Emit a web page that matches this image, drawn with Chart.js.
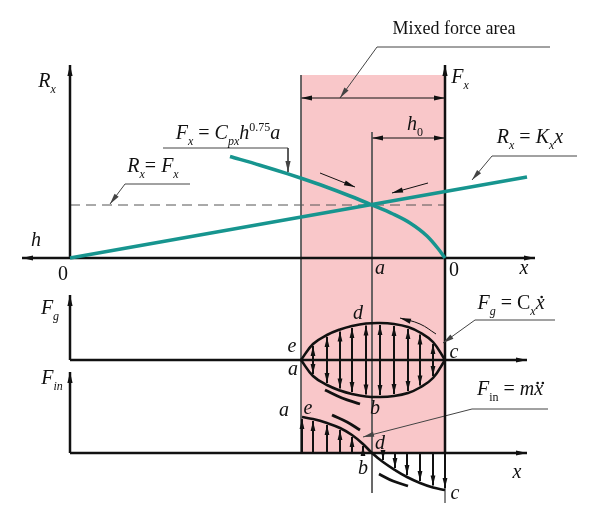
<!DOCTYPE html>
<html>
<head>
<meta charset="utf-8">
<script src="https://cdn.jsdelivr.net/npm/chart.js@4.4.1/dist/chart.umd.min.js"></script>
<style>
  html, body { margin: 0; padding: 0; background: #fff; }
  canvas { display: block; }
</style>
</head>
<body>
<canvas id="forceChart" width="600" height="527"></canvas>
<script>
// Drawing units: x = 0 at the left origin, the right origin (F_x axis) sits at 37.5.
const zoneEdges = [23.1, 37.5];        // mixed force area
const pointA = 30.2;                   // R_x = F_x here
const balanceForce = 5.3;

// top panel: spring reaction R_x = K_x x and cutting force F_x
const springX = [0, 45.7];
const springR = [0, 8.1];
const cuttingX = [16.0, 19.0, 21.8, 23.2, 25.5, 28.0, 30.2, 32.3, 34.0, 35.7, 36.8, 37.5];
const cuttingF = [10.15, 9.28, 8.41, 7.95, 7.15, 6.2, 5.3, 4.4, 3.5, 2.2, 0.95, 0];

// middle panel: damping force F_g (closed loop a-d-c-b)
const dampX = [23.1, 24.3, 25.7, 27.0, 28.2, 29.6, 31.0, 32.4, 33.8, 35.0, 36.3, 37.5];
const dampUpper = [0, 1.6, 2.5, 3.05, 3.4, 3.65, 3.7, 3.6, 3.3, 2.75, 1.8, 0];
const dampLower = [0, -1.6, -2.5, -3.05, -3.4, -3.65, -3.7, -3.6, -3.3, -2.75, -1.8, 0];

// bottom panel: inertia force F_in
const inertiaX = [23.2, 24.3, 25.7, 27.0, 28.2, 29.3, 30.2, 31.3, 32.5, 33.7, 35.0, 36.3, 37.5];
const inertiaF = [3.6, 3.4, 3.0, 2.5, 1.8, 0.9, 0, -0.9, -1.7, -2.4, -3.0, -3.45, -3.7];

const INK = '#111';
const GUIDE = '#555';
const TEAL = '#17958f';
const PINK = '#f9c7c9';
const FAMILY = '"Liberation Serif", "DejaVu Serif", serif';

function seg(xs, ys, axis, style) {
    return Object.assign({
        data: xs.map((x, i) => ({ x, y: ys[i] })),
        yAxisID: axis,
        showLine: true,
        fill: false,
        pointRadius: 0,
        pointHoverRadius: 0,
        borderColor: INK,
        borderWidth: 1,
        tension: 0,
    }, style);
}

const datasets = [
    // curves
    seg(springX, springR, 'y', { borderColor: TEAL, borderWidth: 3.5 }),
    seg(cuttingX, cuttingF, 'y', { borderColor: TEAL, borderWidth: 3.5, cubicInterpolationMode: 'monotone' }),
    seg(dampX, dampUpper, 'yG', { borderWidth: 2.6, tension: 0.4 }),
    seg(dampX, dampLower, 'yG', { borderWidth: 2.6, tension: 0.4 }),
    seg(inertiaX, inertiaF, 'yIn', { borderWidth: 2.6, tension: 0.4 }),

    // axes
    seg([-4.8, 46.5], [0, 0], 'y', { borderWidth: 2.5, arrow: 'both' }),
    seg([0, 0], [0, 19.3], 'y', { borderWidth: 2.5, arrow: 'end' }),
    seg([zoneEdges[1], zoneEdges[1]], [-19.5, 19.3], 'y', { borderWidth: 2.5, arrow: 'end' }),
    seg([zoneEdges[1], zoneEdges[1]], [-24.5, -19.5], 'y', { borderWidth: 1 }),
    seg([0, 45.7], [0, 0], 'yG', { borderWidth: 2.5, arrow: 'end' }),
    seg([0, 0], [0, 6.5], 'yG', { borderWidth: 2.5, arrow: 'end' }),
    seg([0, 45.7], [0, 0], 'yIn', { borderWidth: 2.5, arrow: 'end' }),
    seg([0, 0], [0, 8.1], 'yIn', { borderWidth: 2.5, arrow: 'end' }),

    // guides
    seg([zoneEdges[0], zoneEdges[0]], [18.3, -19.5], 'y', { borderColor: GUIDE }),
    seg([pointA, pointA], [12.6, -23.5], 'y', { borderColor: GUIDE }),
    seg([0, zoneEdges[1]], [balanceForce, balanceForce], 'y', { borderColor: '#555', borderDash: [10, 6] }),
    seg(zoneEdges, [16.0, 16.0], 'y', { arrow: 'both' }),
    seg([pointA, zoneEdges[1]], [12.0, 12.0], 'y', { arrow: 'both' }),

    // leaders
    seg([48.0, 30.7, 27.0], [21.1, 21.1, 16.0], 'y', { borderColor: '#444', arrow: 'end' }),
    seg([12.0, 5.5, 4.0], [7.4, 7.4, 5.4], 'y', { borderColor: '#444', arrow: 'end' }),
    seg([9.3, 21.8, 21.8], [11.0, 11.0, 8.6], 'y', { borderColor: '#444', arrow: 'end' }),
    seg([50.7, 42.2, 40.2], [10.2, 10.2, 7.8], 'y', { borderColor: '#444', arrow: 'end' }),
    seg([48.5, 40.5, 37.3], [4.0, 4.0, 1.7], 'yG', { borderColor: '#444', arrow: 'end' }),
    seg([47.8, 40.2, 29.3], [4.4, 4.4, 1.6], 'yIn', { borderColor: '#444', arrow: 'end' }),

    // motion marks
    seg([25.0, 28.5], [8.5, 7.1], 'y', { arrow: 'end' }),
    seg([35.8, 32.2], [7.5, 6.5], 'y', { arrow: 'end' }),
    seg([36.6, 35.0, 33.0], [2.6, 3.6, 4.2], 'yG', { arrow: 'end', tension: 0.4 }),
    seg([25.5, 27.2, 29.0], [-3.0, -3.8, -4.4], 'yG', { borderWidth: 2.8, tension: 0.4 }),
    seg([26.2, 27.7, 29.0], [3.8, 3.1, 2.3], 'yIn', { borderWidth: 2.8, tension: 0.4 }),
    seg([30.9, 32.3, 33.8], [-2.1, -2.8, -3.3], 'yIn', { borderWidth: 2.8, tension: 0.4 }),
];

// text labels: parts are [text, kind]; i italic, r roman, s/sr subscript, p superscript, d1/d2 dotted x
const labels = [
    { t: [['Mixed force area', 'r']], x: 38.4, y: 23.0, a: 'y', size: 18 },
    { t: [['R', 'i'], ['x', 's']], x: -2.3, y: 17.7, a: 'y' },
    { t: [['F', 'i'], ['x', 's']], x: 39.0, y: 18.1, a: 'y' },
    { t: [['h', 'i']], x: -3.4, y: 1.8, a: 'y' },
    { t: [['0', 'r']], x: -0.7, y: -1.6, a: 'y' },
    { t: [['a', 'i']], x: 31.0, y: -1.0, a: 'y' },
    { t: [['0', 'r']], x: 38.4, y: -1.2, a: 'y' },
    { t: [['x', 'i']], x: 45.4, y: -1.0, a: 'y' },
    { t: [['R', 'i'], ['x', 's'], ['= ', 'r'], ['F', 'i'], ['x', 's']], x: 8.3, y: 9.2, a: 'y' },
    { t: [['F', 'i'], ['x', 's'], [' = ', 'r'], ['C', 'i'], ['px', 's'], ['h', 'i'], ['0.75', 'p'], ['a', 'i']], x: 15.8, y: 12.5, a: 'y' },
    { t: [['R', 'i'], ['x', 's'], [' = ', 'r'], ['K', 'i'], ['x', 's'], ['x', 'i']], x: 46.0, y: 12.1, a: 'y' },
    { t: [['h', 'i'], ['0', 'sr']], x: 34.5, y: 13.4, a: 'y' },
    { t: [['F', 'i'], ['g', 's']], x: -2.0, y: 5.2, a: 'yG' },
    { t: [['d', 'i']], x: 28.8, y: 4.7, a: 'yG' },
    { t: [['e', 'i']], x: 22.2, y: 1.4, a: 'yG' },
    { t: [['a', 'i']], x: 22.3, y: -0.9, a: 'yG' },
    { t: [['c', 'i']], x: 38.4, y: 0.8, a: 'yG' },
    { t: [['b', 'i']], x: 30.5, y: -4.8, a: 'yG' },
    { t: [['F', 'i'], ['g', 's'], [' = C', 'r'], ['x', 's'], ['x', 'd1']], x: 44.1, y: 5.7, a: 'yG' },
    { t: [['F', 'i'], ['in', 's']], x: -1.8, y: 7.5, a: 'yIn' },
    { t: [['a', 'i']], x: 21.4, y: 4.3, a: 'yIn' },
    { t: [['e', 'i']], x: 23.8, y: 4.5, a: 'yIn' },
    { t: [['d', 'i']], x: 31.0, y: 1.0, a: 'yIn' },
    { t: [['b', 'i']], x: 29.3, y: -1.5, a: 'yIn' },
    { t: [['c', 'i']], x: 38.5, y: -4.0, a: 'yIn' },
    { t: [['x', 'i']], x: 44.7, y: -1.9, a: 'yIn' },
    { t: [['F', 'i'], ['in', 'sr'], [' = ', 'r'], ['m', 'i'], ['x', 'd2']], x: 44.0, y: 6.4, a: 'yIn' },
];

function partFont(kind, size) {
    const small = Math.round(size * 0.62);
    if (kind === 'r') return `${size}px ${FAMILY}`;
    if (kind === 's') return `italic ${small}px ${FAMILY}`;
    if (kind === 'sr' || kind === 'p') return `${small}px ${FAMILY}`;
    return `italic ${size}px ${FAMILY}`;
}

function drawRich(ctx, parts, cx, cy, size) {
    const widths = parts.map(([t, k]) => {
        ctx.font = partFont(k, size);
        return ctx.measureText(t).width;
    });
    const total = widths.reduce((s, w) => s + w, 0);
    let x = cx - total / 2;
    const base = cy + size * 0.32;
    parts.forEach(([t, k], i) => {
        ctx.font = partFont(k, size);
        let dy = 0;
        if (k === 's' || k === 'sr') dy = size * 0.28;
        if (k === 'p') dy = -size * 0.4;
        ctx.fillText(t, x, base + dy);
        if (k === 'd1' || k === 'd2') {
            const mx = x + widths[i] / 2 + size * 0.08;
            const my = base - size * 0.62;
            const offs = k === 'd1' ? [0] : [-2.6, 2.6];
            offs.forEach(o => {
                ctx.beginPath();
                ctx.arc(mx + o, my, 1.3, 0, Math.PI * 2);
                ctx.fill();
            });
        }
        x += widths[i];
    });
}

function head(ctx, x0, y0, x1, y1, len = 11, half = 2.6) {
    const a = Math.atan2(y1 - y0, x1 - x0);
    const c = Math.cos(a), s = Math.sin(a);
    ctx.beginPath();
    ctx.moveTo(x1, y1);
    ctx.lineTo(x1 - len * c + half * s, y1 - len * s - half * c);
    ctx.lineTo(x1 - len * c - half * s, y1 - len * s + half * c);
    ctx.closePath();
    ctx.fill();
}

const sketch = {
    id: 'sketch',
    beforeDatasetsDraw(chart) {
        const { ctx, scales } = chart;
        const l = scales.x.getPixelForValue(zoneEdges[0]);
        const r = scales.x.getPixelForValue(zoneEdges[1]);
        const t = scales.y.getPixelForValue(18.3);
        const b = scales.yIn.getPixelForValue(0);
        ctx.save();
        ctx.fillStyle = PINK;
        ctx.fillRect(l, t, r - l, b - t);
        ctx.restore();
    },
    afterDatasetsDraw(chart) {
        const { ctx, scales } = chart;
        const X = v => scales.x.getPixelForValue(v);
        ctx.save();

        // arrowheads on line ends
        chart.data.datasets.forEach((ds, i) => {
            if (!ds.arrow) return;
            const p = chart.getDatasetMeta(i).data;
            ctx.fillStyle = ds.borderColor;
            if (ds.arrow === 'end' || ds.arrow === 'both') {
                const n = p.length;
                head(ctx, p[n - 2].x, p[n - 2].y, p[n - 1].x, p[n - 1].y);
            }
            if (ds.arrow === 'start' || ds.arrow === 'both') {
                head(ctx, p[1].x, p[1].y, p[0].x, p[0].y);
            }
        });

        // hatch arrows of the damping loop
        ctx.strokeStyle = INK;
        ctx.fillStyle = INK;
        ctx.lineWidth = 2;
        const yG = scales.yG, yIn = scales.yIn;
        for (let i = 1; i < dampX.length - 1; i++) {
            const x = X(dampX[i]);
            const top = yG.getPixelForValue(dampUpper[i]) + 2;
            const bot = yG.getPixelForValue(dampLower[i]) - 2;
            const mid = yG.getPixelForValue(0);
            ctx.beginPath();
            ctx.moveTo(x, top);
            ctx.lineTo(x, bot);
            ctx.stroke();
            head(ctx, x, mid, x, top, 10, 2.4);
            head(ctx, x, mid, x, bot, 10, 2.4);
        }

        // hatch arrows of the inertia force
        for (let i = 0; i < inertiaX.length; i++) {
            if (Math.abs(inertiaF[i]) < 0.5) continue;
            const x = X(inertiaX[i]);
            const base = yIn.getPixelForValue(0);
            const tip = yIn.getPixelForValue(inertiaF[i]) + (inertiaF[i] > 0 ? 2 : -2);
            ctx.beginPath();
            ctx.moveTo(x, base);
            ctx.lineTo(x, tip);
            ctx.stroke();
            head(ctx, x, base, x, tip, 10, 2.4);
        }

        // labels
        ctx.fillStyle = INK;
        ctx.textAlign = 'left';
        ctx.textBaseline = 'alphabetic';
        labels.forEach(lb => {
            drawRich(ctx, lb.t, X(lb.x), scales[lb.a].getPixelForValue(lb.y), lb.size || 20);
        });
        ctx.restore();
    },
};

new Chart(document.getElementById('forceChart'), {
    type: 'scatter',
    data: { datasets },
    options: {
        responsive: false,
        animation: false,
        events: [],
        layout: { padding: 0 },
        scales: {
            x: { type: 'linear', min: -7, max: 53, display: false },
            y: { type: 'linear', min: -26.9, max: 25.8, display: false },
            yG: { type: 'linear', axis: 'y', min: -16.7, max: 36.0, display: false },
            yIn: { type: 'linear', axis: 'y', min: -7.4, max: 45.3, display: false },
        },
        plugins: {
            legend: { display: false },
            tooltip: { enabled: false },
        },
    },
    plugins: [sketch],
});
</script>
</body>
</html>
